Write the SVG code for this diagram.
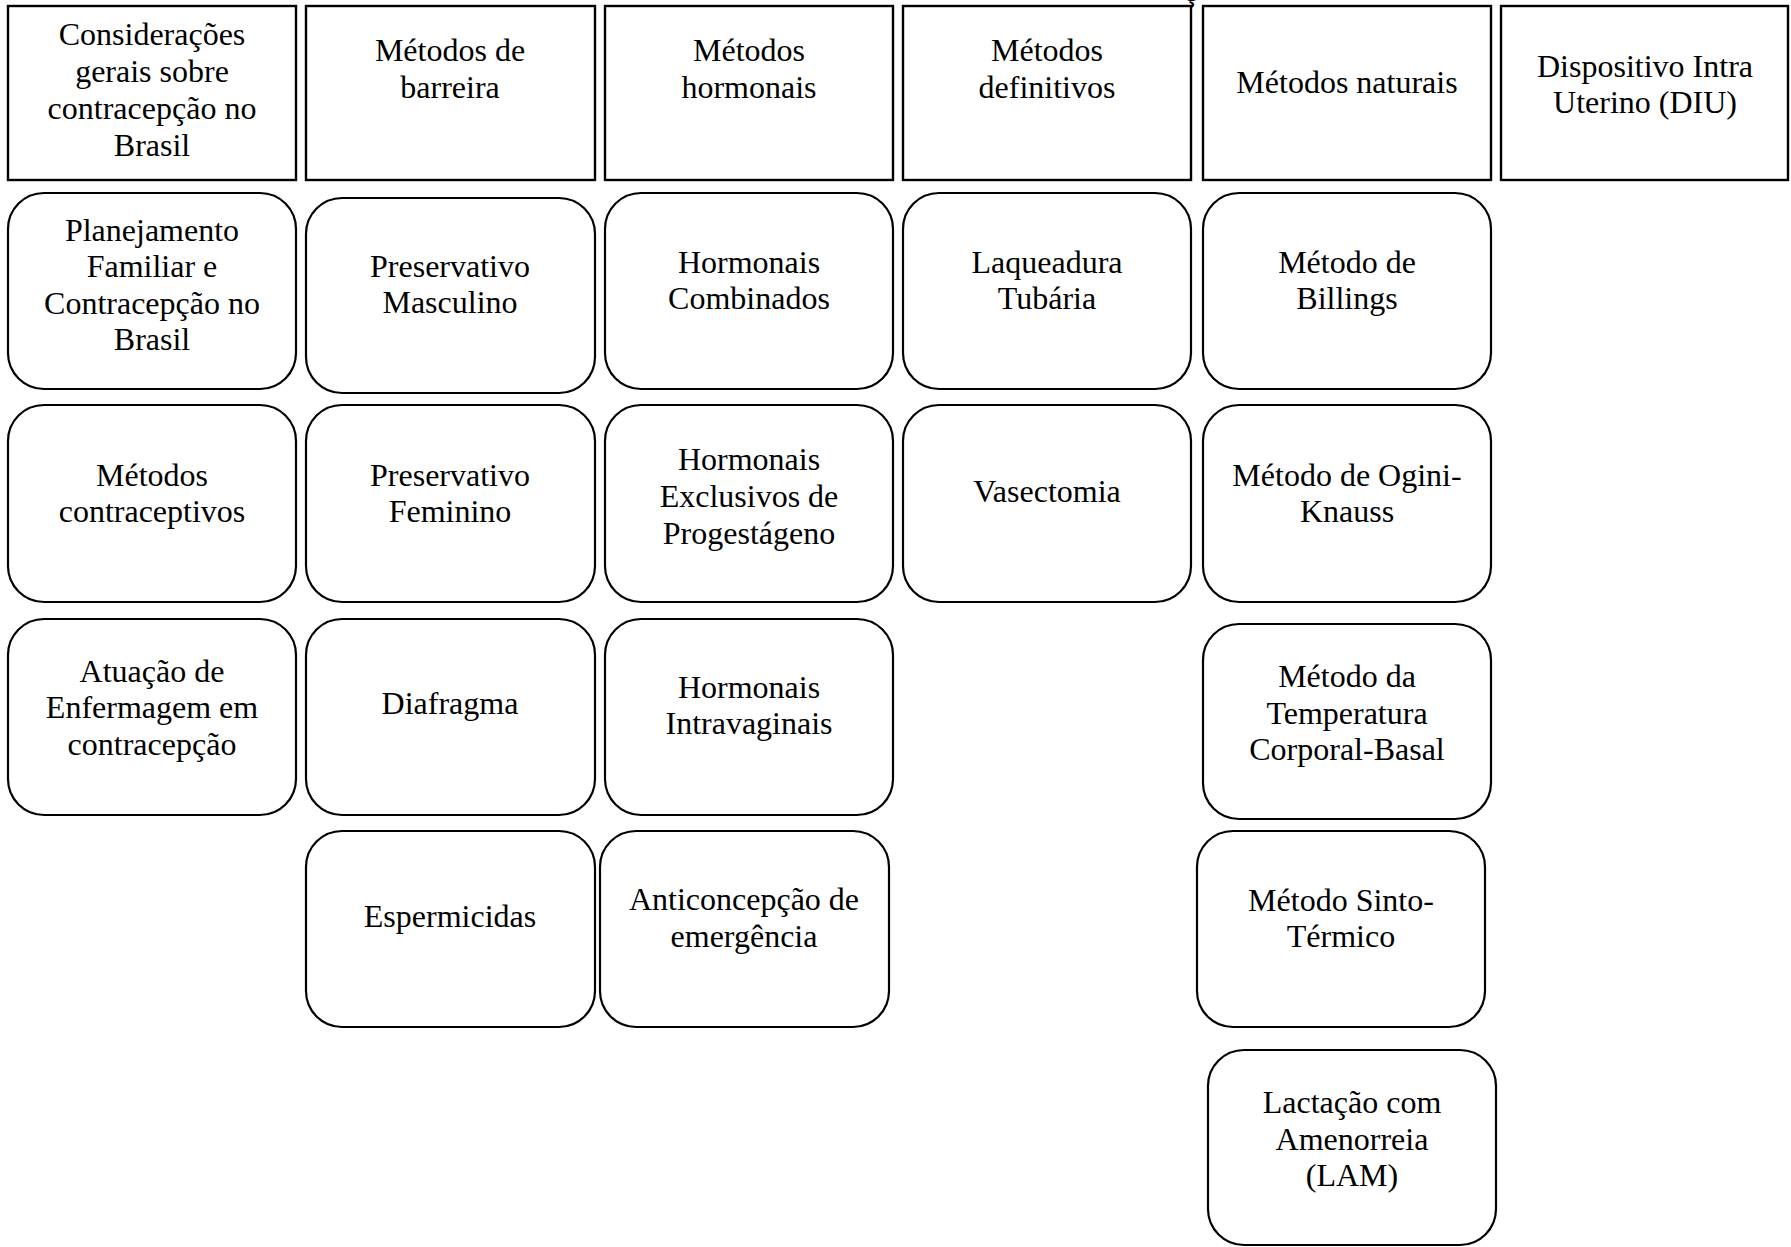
<svg xmlns="http://www.w3.org/2000/svg" width="1791" height="1247" viewBox="0 0 1791 1247">
<style>
.hd{fill:#fff;stroke:#000;stroke-width:2.4}
.nd{fill:#fff;stroke:#000;stroke-width:2.2}
text{font-family:"Liberation Serif","Times New Roman",serif;font-size:32px;fill:#000;text-anchor:middle}
</style>
<rect width="1791" height="1247" fill="#fff"/>
<text x="1190" y="1">ç</text>
<g id="connectors"></g>
<g id="h1"><rect class="hd" x="8" y="6" width="288" height="174"/><text x="152" y="45">Considerações</text><text x="152" y="82">gerais sobre</text><text x="152" y="119">contracepção no</text><text x="152" y="156">Brasil</text></g>
<g id="h2"><rect class="hd" x="306" y="6" width="289" height="174"/><text x="450" y="61">Métodos de</text><text x="450" y="98">barreira</text></g>
<g id="h3"><rect class="hd" x="605" y="6" width="288" height="174"/><text x="749" y="61">Métodos</text><text x="749" y="98">hormonais</text></g>
<g id="h4"><rect class="hd" x="903" y="6" width="288" height="174"/><text x="1047" y="61">Métodos</text><text x="1047" y="98">definitivos</text></g>
<g id="h5"><rect class="hd" x="1203" y="6" width="288" height="174"/><text x="1347" y="93">Métodos naturais</text></g>
<g id="h6"><rect class="hd" x="1501" y="6" width="287" height="174"/><text x="1645" y="77">Dispositivo Intra</text><text x="1645" y="113">Uterino (DIU)</text></g>

<g id="n-planejamento"><rect class="nd" x="8" y="193" width="288" height="196" rx="36"/><text x="152" y="241">Planejamento</text><text x="152" y="277">Familiar e</text><text x="152" y="314">Contracepção no</text><text x="152" y="350">Brasil</text></g>
<g id="n-metodos-contraceptivos"><rect class="nd" x="8" y="405" width="288" height="197" rx="36"/><text x="152" y="486">Métodos</text><text x="152" y="522">contraceptivos</text></g>
<g id="n-atuacao"><rect class="nd" x="8" y="619" width="288" height="196" rx="36"/><text x="152" y="682">Atuação de</text><text x="152" y="718">Enfermagem em</text><text x="152" y="755">contracepção</text></g>

<g id="n-pres-masc"><rect class="nd" x="306" y="198" width="289" height="195" rx="36"/><text x="450" y="277">Preservativo</text><text x="450" y="313">Masculino</text></g>
<g id="n-pres-fem"><rect class="nd" x="306" y="405" width="289" height="197" rx="36"/><text x="450" y="486">Preservativo</text><text x="450" y="522">Feminino</text></g>
<g id="n-diafragma"><rect class="nd" x="306" y="619" width="289" height="196" rx="36"/><text x="450" y="714">Diafragma</text></g>
<g id="n-espermicidas"><rect class="nd" x="306" y="831" width="289" height="196" rx="36"/><text x="450" y="927">Espermicidas</text></g>

<g id="n-horm-comb"><rect class="nd" x="605" y="193" width="288" height="196" rx="36"/><text x="749" y="273">Hormonais</text><text x="749" y="309">Combinados</text></g>
<g id="n-horm-excl"><rect class="nd" x="605" y="405" width="288" height="197" rx="36"/><text x="749" y="470">Hormonais</text><text x="749" y="507">Exclusivos de</text><text x="749" y="544">Progestágeno</text></g>
<g id="n-horm-intrav"><rect class="nd" x="605" y="619" width="288" height="196" rx="36"/><text x="749" y="698">Hormonais</text><text x="749" y="734">Intravaginais</text></g>
<g id="n-anticoncepcao"><rect class="nd" x="600" y="831" width="289" height="196" rx="36"/><text x="744" y="910">Anticoncepção de</text><text x="744" y="947">emergência</text></g>

<g id="n-laqueadura"><rect class="nd" x="903" y="193" width="288" height="196" rx="36"/><text x="1047" y="273">Laqueadura</text><text x="1047" y="309">Tubária</text></g>
<g id="n-vasectomia"><rect class="nd" x="903" y="405" width="288" height="197" rx="36"/><text x="1047" y="502">Vasectomia</text></g>

<g id="n-billings"><rect class="nd" x="1203" y="193" width="288" height="196" rx="36"/><text x="1347" y="273">Método de</text><text x="1347" y="309">Billings</text></g>
<g id="n-ogini"><rect class="nd" x="1203" y="405" width="288" height="197" rx="36"/><text x="1347" y="486">Método de Ogini-</text><text x="1347" y="522">Knauss</text></g>
<g id="n-temperatura"><rect class="nd" x="1203" y="624" width="288" height="195" rx="36"/><text x="1347" y="687">Método da</text><text x="1347" y="724">Temperatura</text><text x="1347" y="760">Corporal-Basal</text></g>
<g id="n-sinto"><rect class="nd" x="1197" y="831" width="288" height="196" rx="36"/><text x="1341" y="911">Método Sinto-</text><text x="1341" y="947">Térmico</text></g>
<g id="n-lam"><rect class="nd" x="1208" y="1050" width="288" height="195" rx="36"/><text x="1352" y="1113">Lactação com</text><text x="1352" y="1150">Amenorreia</text><text x="1352" y="1186">(LAM)</text></g>
</svg>
